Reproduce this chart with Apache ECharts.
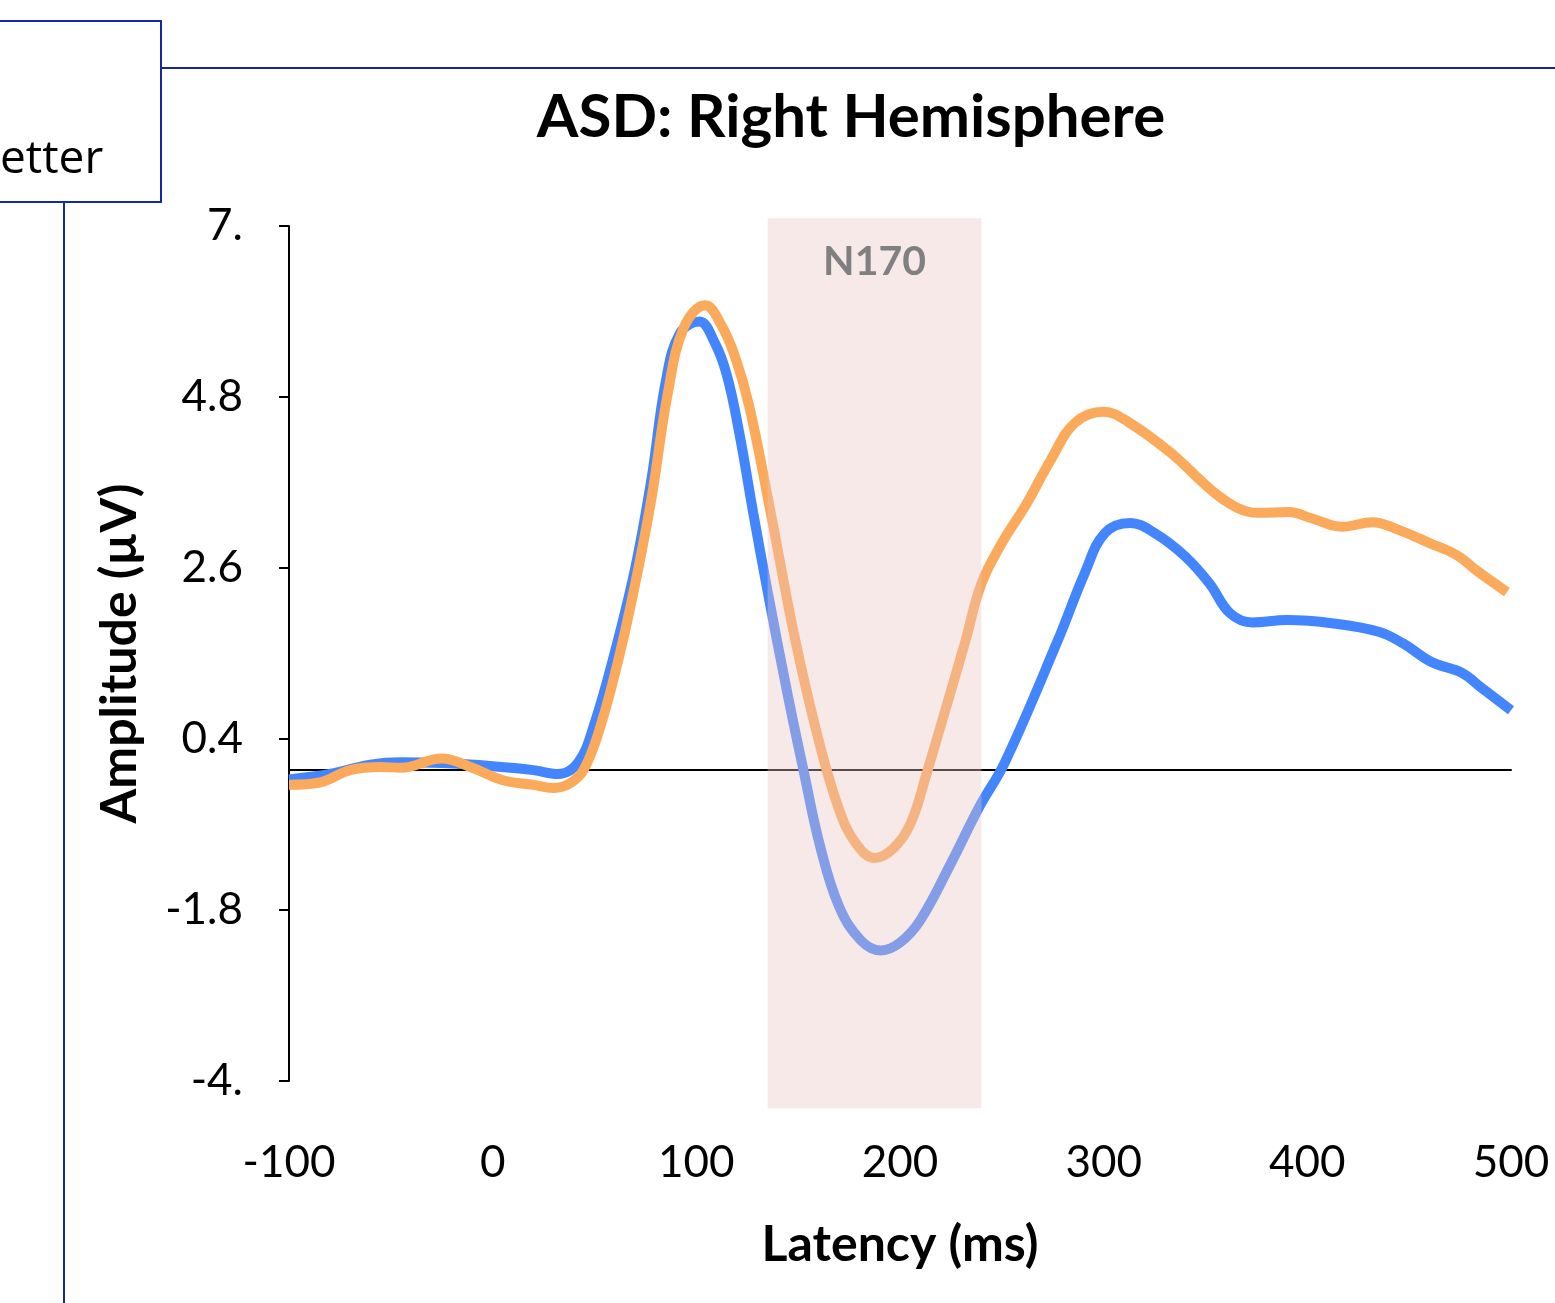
<!DOCTYPE html>
<html>
<head>
<meta charset="utf-8">
<title>ASD: Right Hemisphere</title>
<script src="https://cdn.jsdelivr.net/npm/echarts@6/dist/echarts.min.js"></script>
<style>
  html, body { margin: 0; padding: 0; background: #fff; }
  #chart { width: 1555px; height: 1303px; }
</style>
</head>
<body>
<div id="chart"></div>
<script>
// latency (ms) / amplitude (uV)
const latenciaAzul = [-100, -80, -60, -45, -25, 0, 20, 32, 42, 50, 60, 70, 78, 85, 92, 101.5, 109, 115, 121, 128, 135, 145, 152.6, 160.5, 170, 180.8, 190.6, 200, 210, 225, 239, 251.5, 277.5, 290.8, 300.6, 313, 325, 340, 352, 362, 373, 390, 412, 435, 447, 461, 476, 485, 500];
const amplitudeAzul = [-0.12, -0.05, 0.07, 0.1, 0.09, 0.05, 0, -0.05, 0.1, 0.6, 1.52, 2.6, 3.75, 5.0, 5.62, 5.77, 5.5, 5.08, 4.35, 3.3, 2.3, 0.95, 0, -0.95, -1.75, -2.19, -2.32, -2.22, -1.93, -1.2, -0.47, 0.1, 1.67, 2.54, 3.05, 3.18, 3.05, 2.75, 2.4, 2.02, 1.9, 1.93, 1.89, 1.78, 1.63, 1.39, 1.25, 1.07, 0.77];

const latenciaLaranja = [-100, -85, -70, -55, -45, -25, -10, 5, 20, 30, 38, 45, 53, 62, 70, 78, 86, 94, 104.4, 112, 119, 126, 136, 148.6, 160, 170, 178, 187.5, 197, 205.3, 213, 222, 232, 240, 250, 262, 274, 286, 300, 312, 333, 353, 366, 376, 391, 402, 417, 432, 443, 460, 473, 484, 498];
const amplitudeLaranja = [-0.19, -0.16, 0, 0.04, 0.03, 0.15, 0.03, -0.13, -0.19, -0.23, -0.17, 0.02, 0.57, 1.45, 2.4, 3.5, 4.85, 5.7, 5.98, 5.74, 5.32, 4.68, 3.38, 1.67, 0.39, -0.5, -0.93, -1.13, -1.0, -0.68, -0.05, 0.75, 1.65, 2.4, 2.92, 3.42, 3.99, 4.47, 4.61, 4.48, 4.08, 3.6, 3.37, 3.31, 3.32, 3.24, 3.13, 3.19, 3.11, 2.92, 2.77, 2.55, 2.29];

// N170 window (ms) and the band's vertical reach
const janelaN170 = [135, 240];
const alturaFaixa = [7.1, -4.35];

const ticksX = [-100, 0, 100, 200, 300, 400, 500];
const ticksY = [-4, -1.8, 0.4, 2.6, 4.8, 7];
const rotulosY = ["-4.", "-1.8", "0.4", "2.6", "4.8", "7."];

function juntar(xs, ys) {
  return xs.map((x, i) => [x, ys[i]]);
}

const fonte = "Lato, 'Noto Sans', sans-serif";
const azulSlide = "#1428a0";

const chart = echarts.init(document.getElementById("chart"));

const option = {
  animation: false,
  backgroundColor: "#fff",
  title: {
    text: "ASD: Right Hemisphere",
    left: 846,
    top: 83,
    textAlign: "center",
    textStyle: { fontFamily: fonte, fontWeight: "bold", fontSize: 60, color: "#000" }
  },
  grid: { left: 289, right: 44, top: 226, height: 855, containLabel: false },
  xAxis: [
    {
      // só a linha do zero
      type: "value",
      position: "top",
      min: -100,
      max: 500,
      axisLine: { show: true, onZero: true, lineStyle: { color: "#000", width: 2 } },
      axisTick: { show: false },
      axisLabel: { show: false },
      splitLine: { show: false }
    },
    {
      type: "value",
      position: "bottom",
      min: -100,
      max: 500,
      interval: 100,
      name: "Latency (ms)",
      nameLocation: "middle",
      nameGap: 139,
      nameTextStyle: { fontFamily: fonte, fontWeight: "bold", fontSize: 50, color: "#000" },
      axisLine: { show: false, onZero: false },
      axisTick: { show: false },
      axisLabel: {
        margin: 60,
        fontFamily: fonte,
        fontSize: 44,
        color: "#000",
        customValues: ticksX
      },
      splitLine: { show: false }
    }
  ],
  yAxis: {
    type: "value",
    min: -4,
    max: 7,
    name: "Amplitude (µV)",
    nameLocation: "middle",
    nameGap: 144,
    nameTextStyle: { fontFamily: fonte, fontWeight: "bold", fontSize: 50, color: "#000" },
    axisLine: { show: true, onZero: false, lineStyle: { color: "#000", width: 2 } },
    axisTick: { show: true, length: 10, lineStyle: { color: "#000", width: 2 }, customValues: ticksY },
    axisLabel: {
      margin: 46,
      fontFamily: fonte,
      fontSize: 44,
      color: "#000",
      customValues: ticksY,
      formatter: v => {
        const i = ticksY.findIndex(t => Math.abs(t - v) < 1e-6);
        return i >= 0 ? rotulosY[i] : "";
      }
    },
    splitLine: { show: false }
  },
  series: [
    {
      name: "azul",
      type: "line",
      xAxisIndex: 0,
      data: juntar(latenciaAzul, amplitudeAzul),
      showSymbol: false,
      smooth: 0.4,
      z: 2,
      lineStyle: { color: "#4385fc", width: 10 }
    },
    {
      name: "laranja",
      type: "line",
      xAxisIndex: 0,
      data: juntar(latenciaLaranja, amplitudeLaranja),
      showSymbol: false,
      smooth: 0.4,
      z: 3,
      lineStyle: { color: "#fba95a", width: 10 }
    },
    {
      name: "N170",
      type: "custom",
      xAxisIndex: 0,
      clip: false,
      z: 10,
      silent: true,
      data: [[janelaN170[0], janelaN170[1], alturaFaixa[0], alturaFaixa[1]]],
      renderItem: (params, api) => {
        const p1 = api.coord([api.value(0), api.value(2)]);
        const p2 = api.coord([api.value(1), api.value(3)]);
        return {
          type: "group",
          children: [
            {
              type: "rect",
              shape: { x: p1[0], y: p1[1], width: p2[0] - p1[0], height: p2[1] - p1[1] },
              style: { fill: "rgba(237,197,197,0.38)" }
            },
            {
              type: "text",
              style: {
                text: "N170",
                x: (p1[0] + p2[0]) / 2,
                y: p1[1] + 44,
                align: "center",
                verticalAlign: "middle",
                fill: "#808080",
                font: "bold 41px " + fonte
              }
            }
          ]
        };
      }
    }
  ],
  graphic: [
    {
      type: "rect",
      shape: { x: -2, y: 21, width: 163, height: 181 },
      style: { fill: "none", stroke: azulSlide, lineWidth: 2 }
    },
    {
      type: "line",
      shape: { x1: 162, y1: 68, x2: 1555, y2: 68 },
      style: { stroke: azulSlide, lineWidth: 2 }
    },
    {
      type: "line",
      shape: { x1: 64, y1: 202, x2: 64, y2: 1303 },
      style: { stroke: azulSlide, lineWidth: 2 }
    },
    {
      type: "text",
      left: 0,
      top: 137,
      style: { text: "etter", fill: "#000", font: "46px 'Open Sans', sans-serif" }
    }
  ]
};

chart.setOption(option);
</script>
</body>
</html>
